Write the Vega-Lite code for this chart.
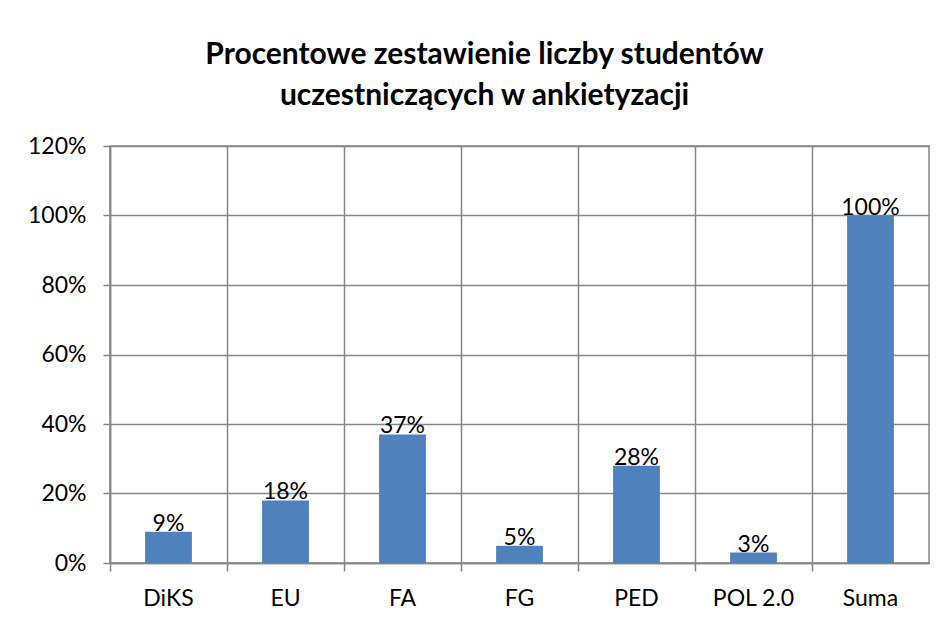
{
  "$schema": "https://vega.github.io/schema/vega-lite/v6.json",
  "autosize": {"type": "none"},
  "padding": {"left": 110, "top": 146, "right": 17, "bottom": 61},
  "width": 819,
  "height": 417,
  "background": "white",
  "title": {
    "text": ["Procentowe zestawienie liczby studentów", "uczestniczących w ankietyzacji"],
    "font": "Lato",
    "fontSize": 30,
    "fontWeight": "bold",
    "color": "#000000",
    "lineHeight": 41,
    "anchor": "middle",
    "dx": -35,
    "offset": 24
  },
  "data": {
    "values": [
      {"kierunek": "DiKS", "procent": 0.09},
      {"kierunek": "EU", "procent": 0.18},
      {"kierunek": "FA", "procent": 0.37},
      {"kierunek": "FG", "procent": 0.05},
      {"kierunek": "PED", "procent": 0.28},
      {"kierunek": "POL 2.0", "procent": 0.03},
      {"kierunek": "Suma", "procent": 1.0}
    ]
  },
  "encoding": {
    "x": {
      "field": "kierunek",
      "type": "nominal",
      "sort": null,
      "scale": {"paddingInner": 0, "paddingOuter": 0},
      "axis": {
        "title": null,
        "labelAngle": 0,
        "labelFont": "Lato",
        "labelFontSize": 23,
        "labelColor": "#000000",
        "labelPadding": 16,
        "bandPosition": 0,
        "grid": true,
        "gridColor": "#868686",
        "gridWidth": 1.5,
        "domainColor": "#868686",
        "domainWidth": 1.5,
        "tickColor": "#868686",
        "tickWidth": 1.5,
        "tickSize": 8
      }
    },
    "y": {
      "field": "procent",
      "type": "quantitative",
      "scale": {"domain": [0, 1.2], "nice": false},
      "axis": {
        "title": null,
        "format": ".0%",
        "values": [0, 0.2, 0.4, 0.6, 0.8, 1.0, 1.2],
        "labelFont": "Lato",
        "labelFontSize": 23,
        "labelColor": "#000000",
        "labelPadding": 17,
        "grid": true,
        "gridColor": "#868686",
        "gridWidth": 1.5,
        "domainColor": "#868686",
        "domainWidth": 1.5,
        "tickColor": "#868686",
        "tickWidth": 1.5,
        "tickSize": 7
      }
    }
  },
  "layer": [
    {
      "mark": {"type": "bar", "color": "#4F81BD", "width": {"band": 0.4}}
    },
    {
      "mark": {"type": "text", "font": "Lato", "fontSize": 23, "color": "#000000", "baseline": "middle", "dy": -8},
      "encoding": {
        "text": {"field": "procent", "type": "quantitative", "format": ".0%"}
      }
    }
  ],
  "config": {
    "view": {"stroke": "#868686", "strokeWidth": 1.5}
  }
}
